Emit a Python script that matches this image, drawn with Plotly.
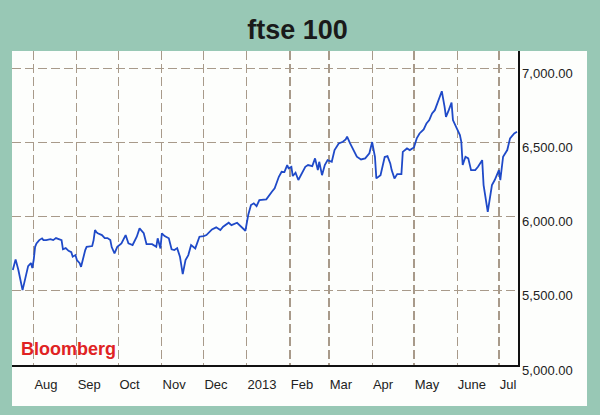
import plotly.graph_objects as go

dates = [
    "2012-07-17", "2012-07-19", "2012-07-21", "2012-07-23", "2012-07-24", "2012-07-26", "2012-07-27",
    "2012-07-28", "2012-07-30", "2012-07-31", "2012-08-01", "2012-08-02", "2012-08-03", "2012-08-05",
    "2012-08-07", "2012-08-08", "2012-08-10", "2012-08-13", "2012-08-15", "2012-08-17", "2012-08-19",
    "2012-08-21", "2012-08-22", "2012-08-24", "2012-08-26", "2012-08-28", "2012-08-29", "2012-08-31",
    "2012-09-01", "2012-09-03", "2012-09-04", "2012-09-06", "2012-09-07", "2012-09-08", "2012-09-10",
    "2012-09-12", "2012-09-13", "2012-09-14", "2012-09-15", "2012-09-16", "2012-09-19", "2012-09-21",
    "2012-09-23", "2012-09-25", "2012-09-26", "2012-09-28", "2012-09-30", "2012-10-02", "2012-10-03",
    "2012-10-06", "2012-10-08", "2012-10-11", "2012-10-14", "2012-10-16", "2012-10-19", "2012-10-21",
    "2012-10-25", "2012-10-28", "2012-10-29", "2012-10-31", "2012-11-01", "2012-11-03", "2012-11-06",
    "2012-11-08", "2012-11-10", "2012-11-12", "2012-11-14", "2012-11-16", "2012-11-18", "2012-11-20",
    "2012-11-22", "2012-11-25", "2012-11-28", "2012-12-01", "2012-12-03", "2012-12-07", "2012-12-10",
    "2012-12-13", "2012-12-15", "2012-12-19", "2012-12-21", "2012-12-25", "2012-12-28", "2012-12-31",
    "2013-01-02", "2013-01-04", "2013-01-06", "2013-01-08", "2013-01-10", "2013-01-13", "2013-01-15",
    "2013-01-19", "2013-01-21", "2013-01-24", "2013-01-26", "2013-01-28", "2013-01-30", "2013-01-31",
    "2013-02-02", "2013-02-03", "2013-02-05", "2013-02-07", "2013-02-09", "2013-02-12", "2013-02-14",
    "2013-02-17", "2013-02-19", "2013-02-21", "2013-02-22", "2013-02-24", "2013-02-26", "2013-02-28",
    "2013-03-03", "2013-03-05", "2013-03-08", "2013-03-11", "2013-03-13", "2013-03-14", "2013-03-16",
    "2013-03-18", "2013-03-21", "2013-03-24", "2013-03-27", "2013-03-30", "2013-04-01", "2013-04-03",
    "2013-04-04", "2013-04-07", "2013-04-10", "2013-04-12", "2013-04-14", "2013-04-15", "2013-04-17",
    "2013-04-19", "2013-04-22", "2013-04-23", "2013-04-26", "2013-04-28", "2013-05-01", "2013-05-03",
    "2013-05-05", "2013-05-08", "2013-05-10", "2013-05-12", "2013-05-14", "2013-05-16", "2013-05-18",
    "2013-05-21", "2013-05-23", "2013-05-24", "2013-05-26", "2013-05-28", "2013-05-29", "2013-06-01",
    "2013-06-03", "2013-06-04", "2013-06-05", "2013-06-07", "2013-06-09", "2013-06-11", "2013-06-14",
    "2013-06-16", "2013-06-19", "2013-06-20", "2013-06-23", "2013-06-26", "2013-06-28", "2013-07-01",
    "2013-07-02", "2013-07-04", "2013-07-07", "2013-07-09", "2013-07-12", "2013-07-14",
]

ftse = [
    5640, 5712, 5640, 5553, 5505, 5586, 5640,
    5667, 5687, 5654, 5708, 5797, 5820, 5842,
    5854, 5842, 5842, 5849, 5842, 5856, 5849,
    5842, 5780, 5788, 5770, 5761, 5730, 5741,
    5708, 5687, 5662, 5741, 5775, 5797, 5802,
    5802, 5842, 5910, 5896, 5888, 5876, 5856,
    5856, 5842, 5795, 5753, 5797, 5809, 5820,
    5876, 5820, 5809, 5865, 5921, 5888, 5815,
    5815, 5797, 5854, 5786, 5888, 5869, 5854,
    5780, 5775, 5788, 5730, 5613, 5708, 5741,
    5809, 5786, 5865, 5869, 5876, 5914, 5928,
    5910, 5932, 5959, 5943, 5959, 5932, 5905,
    6011, 6078, 6090, 6071, 6112, 6117, 6117,
    6168, 6191, 6269, 6303, 6301, 6348, 6326,
    6336, 6274, 6296, 6247, 6280, 6336, 6348,
    6341, 6393, 6314, 6370, 6280, 6348, 6381,
    6370, 6449, 6494, 6505, 6521, 6539, 6498,
    6460, 6404, 6386, 6393, 6427, 6503, 6404,
    6258, 6280, 6402, 6408, 6359, 6314, 6258,
    6287, 6287, 6437, 6460, 6449, 6467, 6528,
    6561, 6588, 6629, 6651, 6696, 6718, 6764,
    6846, 6741, 6673, 6718, 6770, 6651, 6584,
    6550, 6505, 6348, 6404, 6393, 6314, 6314,
    6336, 6381, 6213, 6033, 6213, 6247, 6314,
    6247, 6404, 6449, 6528, 6561, 6572,
]

month_ticks = ["2012-08-01", "2012-09-01", "2012-10-01", "2012-11-01", "2012-12-01", "2013-01-01",
               "2013-02-01", "2013-03-01", "2013-04-01", "2013-05-01", "2013-06-01", "2013-07-01"]
month_labels = ["Aug", "Sep", "Oct", "Nov", "Dec", "2013", "Feb", "Mar", "Apr", "May", "June", "Jul"]
y_ticks = [5000, 5500, 6000, 6500, 7000]

teal = "#98c8b5"
panel = "#fdfefc"

fig = go.Figure()
fig.add_trace(go.Scatter(
    x=dates, y=ftse, mode="lines",
    line=dict(color="#1f4ac8", width=1.8),
    hoverinfo="skip", showlegend=False,
))

grid_color = "#a89a8a"
fig.update_layout(
    width=600, height=415,
    margin=dict(l=12, r=82, t=51, b=50),
    paper_bgcolor=teal,
    plot_bgcolor=panel,
    title=dict(
        text="<b>ftse 100</b>",
        x=0.496, xanchor="center", xref="container",
        y=0.93, yanchor="middle", yref="container",
        font=dict(family="Liberation Sans Narrow, Liberation Sans, Arial, sans-serif", size=27, color="#1a1a1a"),
    ),
    xaxis=dict(
        type="date",
        range=["2012-07-16 10:00", "2013-07-14 17:00"],
        tickvals=month_ticks, ticktext=month_labels,
        ticklabelposition="outside right",
        ticks="", ticklabelstandoff=7,
        tickfont=dict(family="Liberation Sans, Arial, sans-serif", size=13, color="#222222"),
        showgrid=True, gridcolor=grid_color, gridwidth=1.2, griddash="9px,4px",
        showline=True, linecolor="#111111", linewidth=1.5,
        zeroline=False, fixedrange=True,
    ),
    yaxis=dict(
        side="right",
        range=[5000, 7117],
        tickvals=y_ticks, tickformat=",.2f",
        ticks="", ticklabelstandoff=0, ticklabelshift=5,
        tickfont=dict(family="Liberation Sans, Arial, sans-serif", size=13, color="#222222"),
        showgrid=True, gridcolor=grid_color, gridwidth=1.2, griddash="9px,4px",
        showline=True, linecolor="#111111", linewidth=1.5,
        zeroline=False, fixedrange=True,
    ),
    shapes=[dict(
        type="rect", xref="paper", yref="paper",
        x0=0, x1=1.1364, y0=-0.1306, y1=1,
        fillcolor=panel, line=dict(width=0), layer="below",
    )],
    annotations=[dict(
        text="<b>Bloomberg</b>", xref="paper", yref="paper",
        x=0.014, y=0.051, xanchor="left", yanchor="middle",
        showarrow=False,
        font=dict(family="Liberation Sans, Arial, sans-serif", size=18, color="#e02323"),
    )],
)

fig.write_html(
    "out.html",
    config={"displayModeBar": False, "staticPlot": True},
    post_script="document.body.style.margin='0';document.body.style.background='%s';" % teal,
)
